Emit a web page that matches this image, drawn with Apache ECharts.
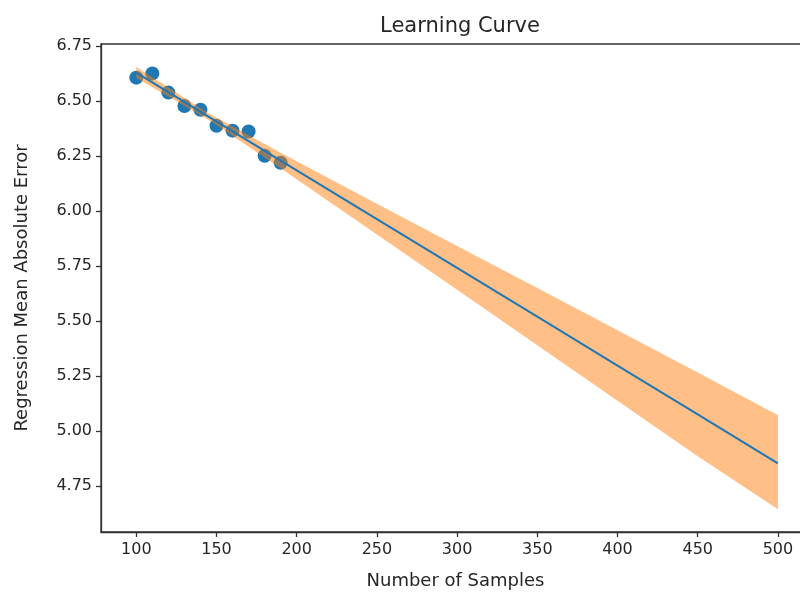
<!DOCTYPE html>
<html>
<head>
<meta charset="utf-8">
<script src="https://cdn.jsdelivr.net/npm/echarts@6/dist/echarts.min.js"></script>
<style>
    html, body { margin: 0; padding: 0; background: #fff; }
    #main { width: 800px; height: 592px; }
</style>
</head>
<body>
<div id="main"></div>
<script>
// 样本点
var sampleX = [100, 110, 120, 130, 140, 150, 160, 170, 180, 190];
var sampleErr = [6.607, 6.626, 6.539, 6.478, 6.461, 6.388, 6.366, 6.362, 6.252, 6.220];

// 回归线和置信带
var fitX = [100, 145, 190, 250, 300, 350, 400, 450, 500];
var fitErr = [6.630, 6.430, 6.230, 5.964, 5.742, 5.520, 5.298, 5.076, 4.853];
var bandLow = [6.605, 6.415, 6.195, 5.894, 5.642, 5.390, 5.138, 4.886, 4.644];
var bandHigh = [6.655, 6.445, 6.265, 6.034, 5.842, 5.650, 5.458, 5.266, 5.072];

// 刻度
var xTicks = [100, 150, 200, 250, 300, 350, 400, 450, 500];
var yTicks = [4.75, 5.00, 5.25, 5.50, 5.75, 6.00, 6.25, 6.50, 6.75];

function pairs(xs, ys) {
    var out = [];
    for (var i = 0; i < xs.length; i++) {
        out.push([xs[i], ys[i]]);
    }
    return out;
}

var bandData = [];
for (var i = 0; i < fitX.length; i++) {
    bandData.push([fitX[i], bandLow[i], bandHigh[i]]);
}

// 置信带多边形
function renderBand(params, api) {
    if (params.dataIndex !== 0) {
        return;
    }
    var pts = [];
    for (var i = 0; i < fitX.length; i++) {
        pts.push(api.coord([fitX[i], bandHigh[i]]));
    }
    for (var j = fitX.length - 1; j >= 0; j--) {
        pts.push(api.coord([fitX[j], bandLow[j]]));
    }
    return {
        type: 'polygon',
        shape: { points: pts },
        style: { fill: '#ff7f0e', opacity: 0.5 }
    };
}

var fontName = 'DejaVu Sans';
var textColor = '#262626';

var option = {
    animation: false,
    backgroundColor: '#fff',
    title: {
        text: 'Learning Curve',
        left: 455,
        top: 11,
        textAlign: 'center',
        textStyle: { fontFamily: fontName, fontSize: 21, fontWeight: 'normal', color: textColor }
    },
    grid: {
        left: 101,
        right: -10,
        top: 44,
        bottom: 60,
        outerBoundsMode: 'none',
        containLabel: false,
        show: true,
        borderColor: '#333',
        borderWidth: 1.3
    },
    xAxis: {
        type: 'value',
        min: 78,
        max: 520,
        name: 'Number of Samples',
        nameLocation: 'middle',
        nameGap: 40,
        nameTextStyle: { fontFamily: fontName, fontSize: 18, color: textColor },
        axisLine: { show: true, lineStyle: { color: '#333', width: 1.3 } },
        axisTick: { show: true, length: 5, customValues: xTicks, lineStyle: { color: '#333', width: 1.3 } },
        axisLabel: {
            customValues: xTicks,
            margin: 10,
            fontFamily: fontName,
            fontSize: 16,
            color: textColor
        },
        splitLine: { show: false }
    },
    yAxis: {
        type: 'value',
        min: 4.541,
        max: 6.76,
        name: 'Regression Mean Absolute Error',
        nameLocation: 'middle',
        nameGap: 70,
        nameTextStyle: { fontFamily: fontName, fontSize: 18, color: textColor },
        axisLine: { show: true, lineStyle: { color: '#333', width: 1.3 } },
        axisTick: { show: true, length: 5, customValues: yTicks, lineStyle: { color: '#333', width: 1.3 } },
        axisLabel: {
            customValues: yTicks,
            margin: 9,
            fontFamily: fontName,
            fontSize: 16,
            color: textColor,
            formatter: function (v) { return v.toFixed(2); }
        },
        splitLine: { show: false }
    },
    series: [
        {
            name: 'samples',
            type: 'scatter',
            z: 1,
            symbolSize: 14,
            itemStyle: { color: '#1f77b4', opacity: 1 },
            data: pairs(sampleX, sampleErr)
        },
        {
            name: 'band',
            type: 'custom',
            z: 2,
            renderItem: renderBand,
            encode: { x: 0, y: [1, 2] },
            data: bandData
        },
        {
            name: 'fit',
            type: 'line',
            z: 3,
            symbol: 'none',
            lineStyle: { color: '#1f77b4', width: 2 },
            data: pairs(fitX, fitErr)
        }
    ]
};

var chart = echarts.init(document.getElementById('main'));
chart.setOption(option);
</script>
</body>
</html>
